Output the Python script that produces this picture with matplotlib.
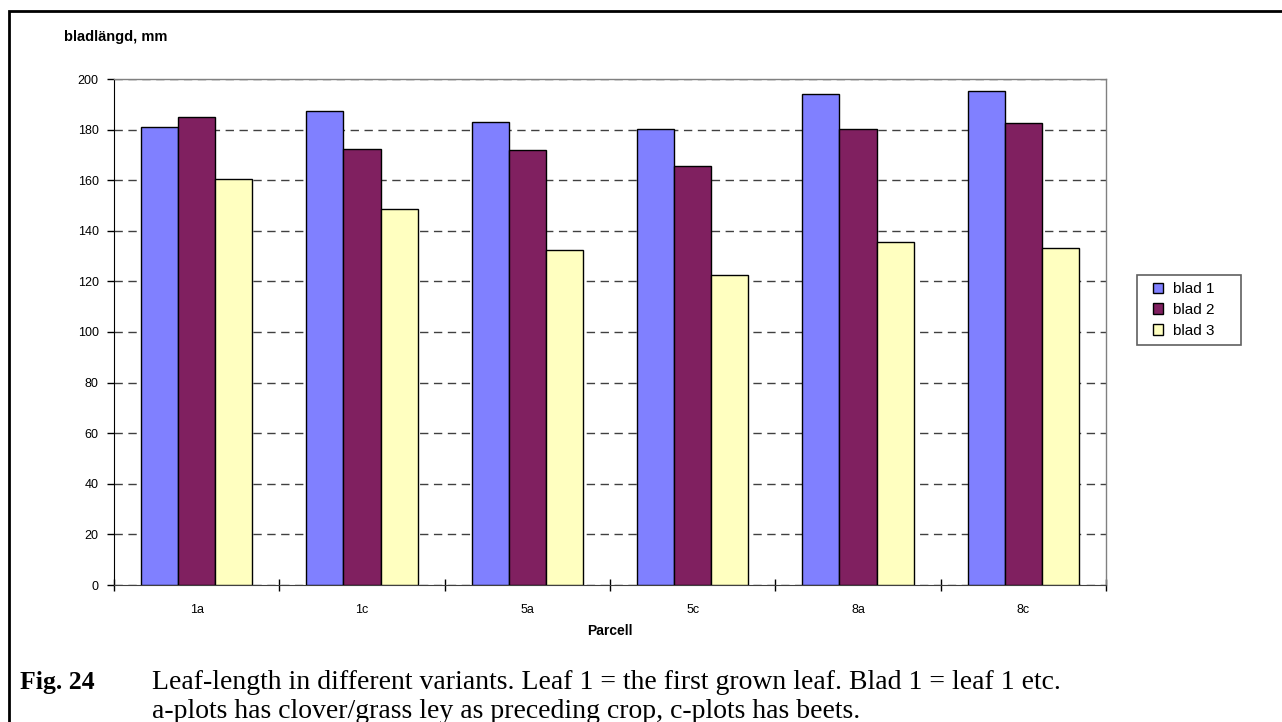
import numpy as np
import matplotlib
matplotlib.use("Agg")
import matplotlib.pyplot as plt
from matplotlib.patches import Rectangle

# leaf length per plot, mm
parcels = ["1a", "1c", "5a", "5c", "8a", "8c"]
blad1 = [181.0, 187.5, 183.1, 180.2, 193.9, 195.1]
blad2 = [184.8, 172.2, 171.8, 165.8, 180.2, 182.5]
blad3 = [160.3, 148.7, 132.6, 122.5, 135.7, 133.2]
series_names = ["blad 1", "blad 2", "blad 3"]
series_colors = ["#8080FF", "#802060", "#FFFFC0"]
yticks = list(range(0, 201, 20))

W, H = 1282, 722
plt.rcParams["font.family"] = ["Liberation Sans", "DejaVu Sans"]

fig = plt.figure(figsize=(W / 100, H / 100), dpi=100)
fig.patch.set_facecolor("white")

# outer frame around the chart (runs off the right and bottom)
fig.add_artist(Rectangle((9 / W, -0.2), 1.2, 1.2 - 11 / H,
                         transform=fig.transFigure, fill=False,
                         edgecolor="black", linewidth=2.0))

ax_l, ax_r, ax_t, ax_b = 114, 1106, 79, 585
ax = fig.add_axes([ax_l / W, 1 - ax_b / H, (ax_r - ax_l) / W, (ax_b - ax_t) / H])

x = np.arange(len(parcels))
bw = 0.225
for i, (vals, name, col) in enumerate(zip([blad1, blad2, blad3], series_names, series_colors)):
    ax.bar(x + (i - 1) * bw, vals, width=bw, color=col, edgecolor="black",
           linewidth=1.0, label=name, zorder=3)

ax.set_xlim(-0.5, len(parcels) - 0.5)
ax.set_ylim(0, 200)
ax.set_yticks(yticks)
ax.yaxis.grid(True, linestyle=(0, (6, 4)), color="#404040", linewidth=1.0, zorder=0)
ax.set_axisbelow(True)

# category boundaries get the tick marks, labels sit at the centres
ax.set_xticks(np.arange(-0.5, len(parcels), 1.0))
ax.set_xticklabels([])
ax.set_xticks(x, minor=True)
ax.set_xticklabels(parcels, minor=True)
ax.tick_params(axis="x", which="major", direction="inout", length=9, width=1, color="black")
ax.tick_params(axis="x", which="minor", length=0, pad=14, labelsize=9)
ax.tick_params(axis="y", direction="out", length=5, width=1, pad=6, labelsize=9)

for side in ["top", "right"]:
    ax.spines[side].set_color("#808080")
    ax.spines[side].set_linewidth(1.0)
ax.spines["left"].set_color("black")
ax.spines["bottom"].set_color("#404040")

fig.text(64 / W, 1 - 37 / H, "bladlängd, mm", fontsize=10.5, fontweight="bold",
         ha="left", va="center")
fig.text(610 / W, 1 - 631 / H, "Parcell", fontsize=10, fontweight="bold",
         ha="center", va="center")

# legend entries without their own frame; the box is drawn separately
leg_fs = 11
leg_px = leg_fs * 100 / 72
leg = fig.legend(loc="center left", bbox_to_anchor=((1153 - 0.2 * leg_px) / W, 1 - 310 / H),
                 frameon=False, fontsize=leg_fs, handlelength=0.68, handleheight=0.68,
                 handletextpad=0.6, borderpad=0.2, borderaxespad=0, labelspacing=0.45)
fig.add_artist(Rectangle((1137 / W, 1 - 345 / H), 104 / W, 70 / H,
                         transform=fig.transFigure, fill=False,
                         edgecolor="#606060", linewidth=1.2))

# caption below the chart
serif = ["Liberation Serif", "DejaVu Serif"]
fig.text(20 / W, 1 - 689 / H, "Fig. 24", fontsize=18.5, fontweight="bold",
         family=serif, ha="left", va="baseline")
fig.text(152 / W, 1 - 689 / H,
         "Leaf-length in different variants. Leaf 1 = the first grown leaf. Blad 1 = leaf 1 etc.",
         fontsize=20, family=serif, ha="left", va="baseline")
fig.text(152 / W, 1 - 718 / H,
         "a-plots has clover/grass ley as preceding crop, c-plots has beets.",
         fontsize=20, family=serif, ha="left", va="baseline")

fig.savefig("out.png", dpi=100, facecolor="white")
